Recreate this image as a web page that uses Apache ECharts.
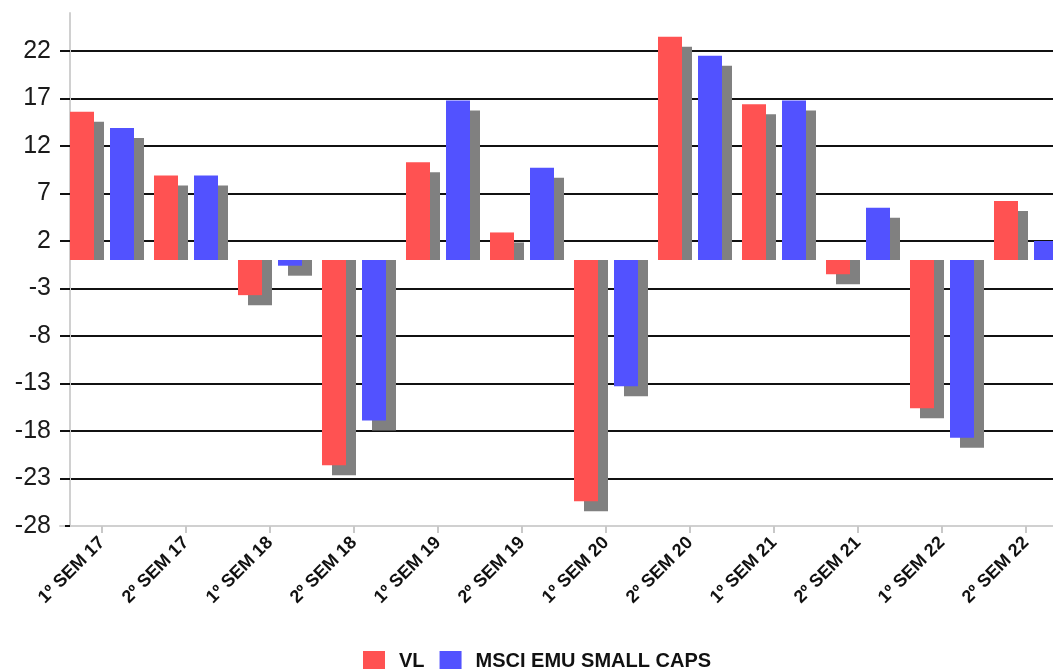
<!DOCTYPE html>
<html>
<head>
<meta charset="utf-8">
<script src="https://cdn.jsdelivr.net/npm/echarts@6/dist/echarts.min.js"></script>
<style>
  html, body { margin: 0; padding: 0; background: #fff; }
  #chart { width: 1053px; height: 669px; }
</style>
</head>
<body>
<div id="chart"></div>
<script>
// Half-year performance (%) of the fund vs. its benchmark
const categories = ['1º SEM 17', '2º SEM 17', '1º SEM 18', '2º SEM 18', '1º SEM 19', '2º SEM 19',
                    '1º SEM 20', '2º SEM 20', '1º SEM 21', '2º SEM 21', '1º SEM 22', '2º SEM 22'];
const seriesNames = ['VL', 'MSCI EMU SMALL CAPS'];
const vlValues   = [15.6, 8.9, -3.7, -21.6, 10.3, 2.9, -25.4, 23.5, 16.4, -1.5, -15.6, 6.2];
const msciValues = [13.9, 8.9, -0.6, -16.9, 16.8, 9.7, -13.3, 21.5, 16.8, 5.5, -18.7, 2.0];
const yTicks = [-28, -23, -18, -13, -8, -3, 2, 7, 12, 17, 22];

const COLORS = ['#ff5252', '#5252ff'];
const SHADOW = '#808080';
const BAR_W = 24;
const BAR_GAP = 16;
const DROP = 10;   // drop-shadow offset in pixels

// Gray drop shadow behind each bar, positioned from the same values on the same axes
function shadowSeries(values, slot) {
  return {
    type: 'custom',
    silent: true,
    z: 1,
    data: values.map((v, i) => [i, v]),
    encode: { x: 0, y: 1 },
    renderItem: function (params, api) {
      const cat = api.value(0);
      const v = api.value(1);
      const base = api.coord([cat, 0]);
      const end = api.coord([cat, v]);
      const group = 2 * BAR_W + BAR_GAP;
      const left = base[0] - group / 2 + slot * (BAR_W + BAR_GAP) + DROP;
      let y0, y1;
      if (v >= 0) { y0 = end[1] + DROP; y1 = base[1]; }
      else { y0 = base[1]; y1 = end[1] + DROP; }
      const h = Math.max(0, y1 - y0);
      return { type: 'rect', shape: { x: left, y: y0, width: BAR_W, height: h },
               style: { fill: SHADOW } };
    }
  };
}

const chart = echarts.init(document.getElementById('chart'), null, { renderer: 'canvas' });
chart.setOption({
  animation: false,
  backgroundColor: '#ffffff',
  grid: { left: 60, top: 13, width: 1008, height: 513, containLabel: false, outerBoundsMode: 'none' },
  legend: {
    data: seriesNames,
    left: 358,
    top: 646,
    icon: 'rect',
    itemWidth: 22,
    itemHeight: 20,
    itemGap: 15,
    textStyle: { fontFamily: 'Liberation Sans, Arial, sans-serif', fontSize: 20, fontWeight: 'bold',
                 color: '#111', padding: [0, 0, 0, 9] }
  },
  xAxis: {
    type: 'category',
    data: categories,
    axisLine: { show: true, onZero: false, lineStyle: { color: '#d0d0d0', width: 2 } },
    axisTick: { show: true, alignWithLabel: true, length: 7, lineStyle: { color: '#c8c8c8', width: 2 } },
    axisLabel: { rotate: 45, margin: 14, interval: 0, fontFamily: 'Liberation Sans, Arial, sans-serif',
                 fontSize: 18, fontWeight: 'bold', color: '#111' },
    splitLine: { show: false }
  },
  yAxis: {
    type: 'value',
    min: -28,
    max: 26,
    interval: 5,
    offset: -10,
    axisLine: { show: true, lineStyle: { color: '#d0d0d0', width: 2 } },
    axisTick: { show: true, length: 5, customValues: yTicks, lineStyle: { color: '#111', width: 2 } },
    axisLabel: { margin: 19, customValues: yTicks, fontFamily: 'Liberation Sans, Arial, sans-serif',
                 fontSize: 25, color: '#1a1a1a' },
    splitLine: { show: true, showMinLine: false,
                 lineStyle: { color: '#111', width: 2 } }
  },
  series: [
    shadowSeries(vlValues, 0),
    shadowSeries(msciValues, 1),
    {
      name: seriesNames[0], type: 'bar', z: 2, data: vlValues,
      barWidth: BAR_W, barGap: (BAR_GAP / BAR_W * 100).toFixed(2) + '%',
      itemStyle: { color: COLORS[0] }
    },
    {
      name: seriesNames[1], type: 'bar', z: 2, data: msciValues,
      barWidth: BAR_W, barGap: (BAR_GAP / BAR_W * 100).toFixed(2) + '%',
      itemStyle: { color: COLORS[1] }
    }
  ]
});
</script>
</body>
</html>
